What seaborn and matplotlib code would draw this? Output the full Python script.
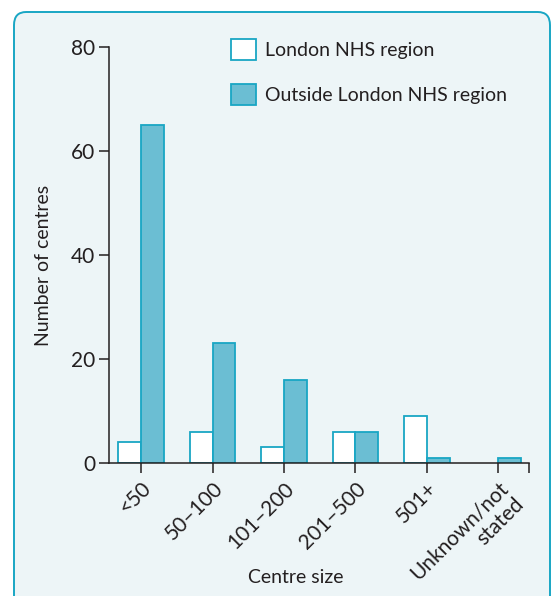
import matplotlib
matplotlib.use("Agg")
import matplotlib.pyplot as plt
import pandas as pd
import seaborn as sns
from matplotlib.patches import FancyBboxPatch, Patch

centre_sizes = ["<50", "50\u2013100", "101\u2013200", "201\u2013500", "501+", "Unknown/not\nstated"]
london = [4, 6, 3, 6, 9, 0]
outside = [65, 23, 16, 6, 1, 1]
series_names = ["London NHS region", "Outside London NHS region"]

EDGE = "#19A6C4"
FILL = "#6BBED3"
PANEL = "#EDF5F7"
TEXT = "#231F20"
FS = 14

sns.set_style("ticks")
plt.rcParams["font.family"] = ["Lato", "DejaVu Sans"]

df = pd.DataFrame({
    "size": centre_sizes * 2,
    "count": london + outside,
    "region": [series_names[0]] * len(centre_sizes) + [series_names[1]] * len(centre_sizes),
})

fig = plt.figure(figsize=(5.53, 5.96), dpi=100)
fig.patch.set_facecolor("white")

# rounded panel behind the chart
panel = FancyBboxPatch(
    (14 / 553, -0.05), (550 - 14) / 553, (596 - 12) / 596 + 0.05,
    boxstyle="round,pad=0,rounding_size=0.022",
    transform=fig.transFigure, facecolor=PANEL, edgecolor=EDGE, linewidth=1.4,
    zorder=-5,
)
fig.patches.append(panel)

ax = fig.add_axes([109 / 553, 1 - 463 / 596, 420 / 553, 416 / 596])
ax.set_facecolor("none")
ax.set_zorder(2)

sns.barplot(
    data=df, x="size", y="count", hue="region",
    palette=["white", FILL], width=0.64, edgecolor=EDGE, linewidth=1.3,
    saturation=1, ax=ax, legend=False,
)

for bar in ax.patches:
    if bar.get_height() == 0:
        bar.set_visible(False)

ax.set_ylim(0, 80)
ax.set_yticks([0, 20, 40, 60, 80])
ax.set_xlim(-0.45, 5.43)
ax.set_xticks(range(len(centre_sizes)))
ax.set_xticks([5.43], minor=True)
ax.set_xticklabels(centre_sizes, rotation=45, ha="right", rotation_mode="anchor",
                   fontsize=FS + 1, color=TEXT, linespacing=1.1)
ax.tick_params(axis="x", which="both", length=7, width=1.1, color=TEXT, pad=4)
ax.tick_params(axis="y", length=7, width=1.1, color=TEXT, labelsize=FS + 1, labelcolor=TEXT, pad=3)

sns.despine(ax=ax)
for side in ["left", "bottom"]:
    ax.spines[side].set_linewidth(1.1)
    ax.spines[side].set_color(TEXT)

ax.set_xlabel("Centre size", fontsize=FS, color=TEXT)
ax.set_ylabel("Number of centres", fontsize=FS, color=TEXT)
ax.xaxis.set_label_coords((296 - 109) / 420, -0.255)
ax.yaxis.set_label_coords(-0.135, 0.476)

handles = [
    Patch(facecolor="white", edgecolor=EDGE, linewidth=1.3),
    Patch(facecolor=FILL, edgecolor=EDGE, linewidth=1.3),
]
leg = fig.legend(handles, series_names, loc="upper left", bbox_to_anchor=(213 / 553, 1 - 21 / 596),
                 frameon=False, fontsize=FS, handlelength=1.3, handleheight=1.3,
                 handletextpad=0.45, labelspacing=1.25, labelcolor=TEXT)
leg.set_zorder(3)

fig.savefig("out.png", dpi=100)
plt.close(fig)
